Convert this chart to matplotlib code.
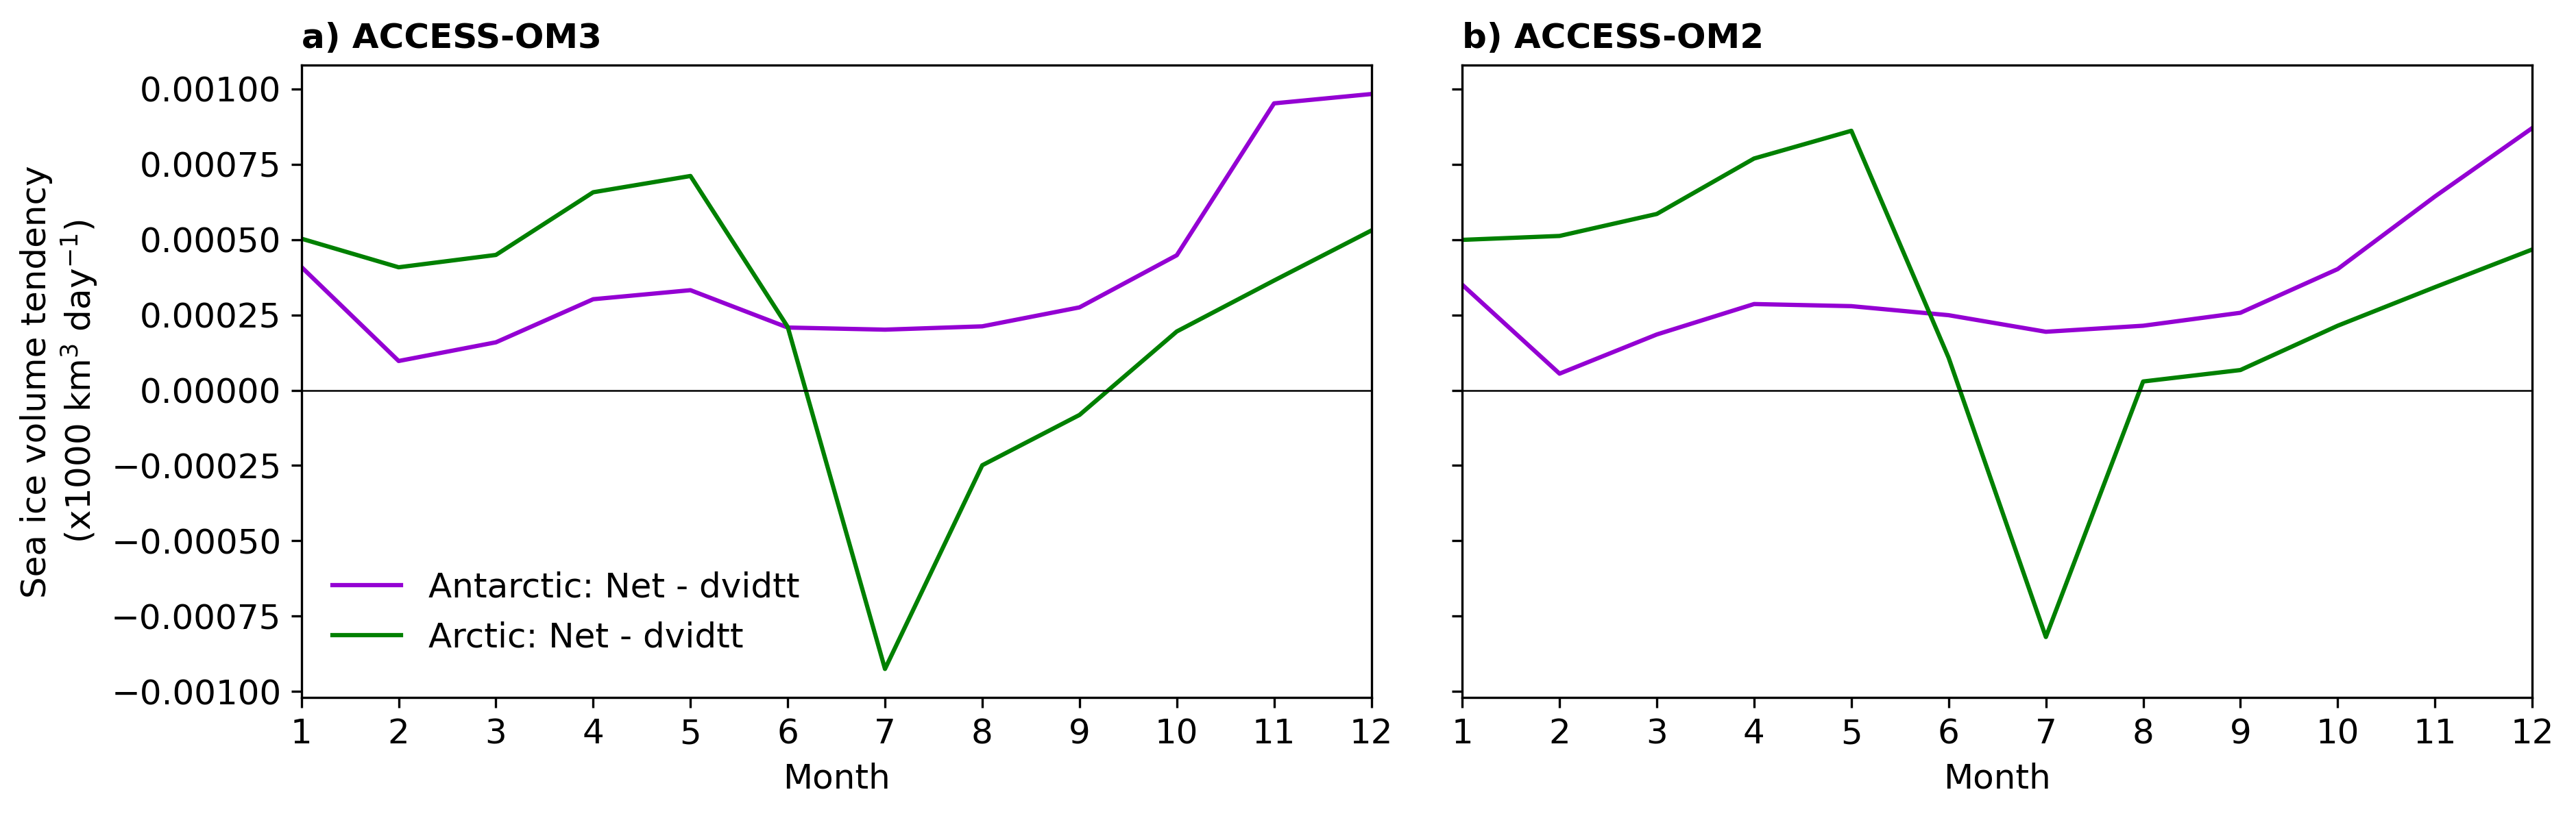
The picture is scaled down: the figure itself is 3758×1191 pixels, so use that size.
import numpy as np
import matplotlib
matplotlib.use('Agg')
import matplotlib.pyplot as plt

# Monthly sea ice volume tendency (Net - dvidtt), x1000 km^3/day
months = np.arange(1, 13)

om3_antarctic = [0.000409, 0.000097, 0.000159, 0.000302, 0.000332, 0.000208,
                 0.000201, 0.000212, 0.000275, 0.000448, 0.000952, 0.000983]
om3_arctic = [0.000503, 0.000408, 0.000449, 0.000657, 0.000711, 0.000210,
              -0.000925, -0.000249, -0.000082, 0.000195, 0.000364, 0.000530]

om2_antarctic = [0.000350, 0.000055, 0.000185, 0.000286, 0.000279, 0.000249,
                 0.000194, 0.000214, 0.000257, 0.000402, 0.000643, 0.000870]
om2_arctic = [0.000499, 0.000512, 0.000585, 0.000769, 0.000861, 0.000108,
              -0.000819, 0.000029, 0.000067, 0.000214, 0.000342, 0.000467]

titles = ['a) ACCESS-OM3', 'b) ACCESS-OM2']
plt.rcParams['font.size'] = 12

fig, axes = plt.subplots(1, 2, figsize=(3758 / 300, 1191 / 300), sharey=True)
fig.subplots_adjust(left=0.117, right=0.983, bottom=0.145, top=0.920, wspace=0.085)

data = [(om3_antarctic, om3_arctic), (om2_antarctic, om2_arctic)]
for ax, (ant, arc), title in zip(axes, data, titles):
    ax.plot(months, ant, color='darkviolet', lw=1.5, label='Antarctic: Net - dvidtt')
    ax.plot(months, arc, color='green', lw=1.5, label='Arctic: Net - dvidtt')
    ax.axhline(0, color='black', lw=0.6)
    ax.set_xlim(1, 12)
    ax.set_xticks(months)
    ax.set_xlabel('Month')
    ax.set_title(title, loc='left', fontweight='bold', fontsize=12)

axes[0].set_ylabel('Sea ice volume tendency\n(x1000 km$^3$ day$^{-1}$)')
axes[0].legend(loc='lower left', frameon=False, bbox_to_anchor=(0.0, 0.02))

fig.savefig('out.png', dpi=300)
